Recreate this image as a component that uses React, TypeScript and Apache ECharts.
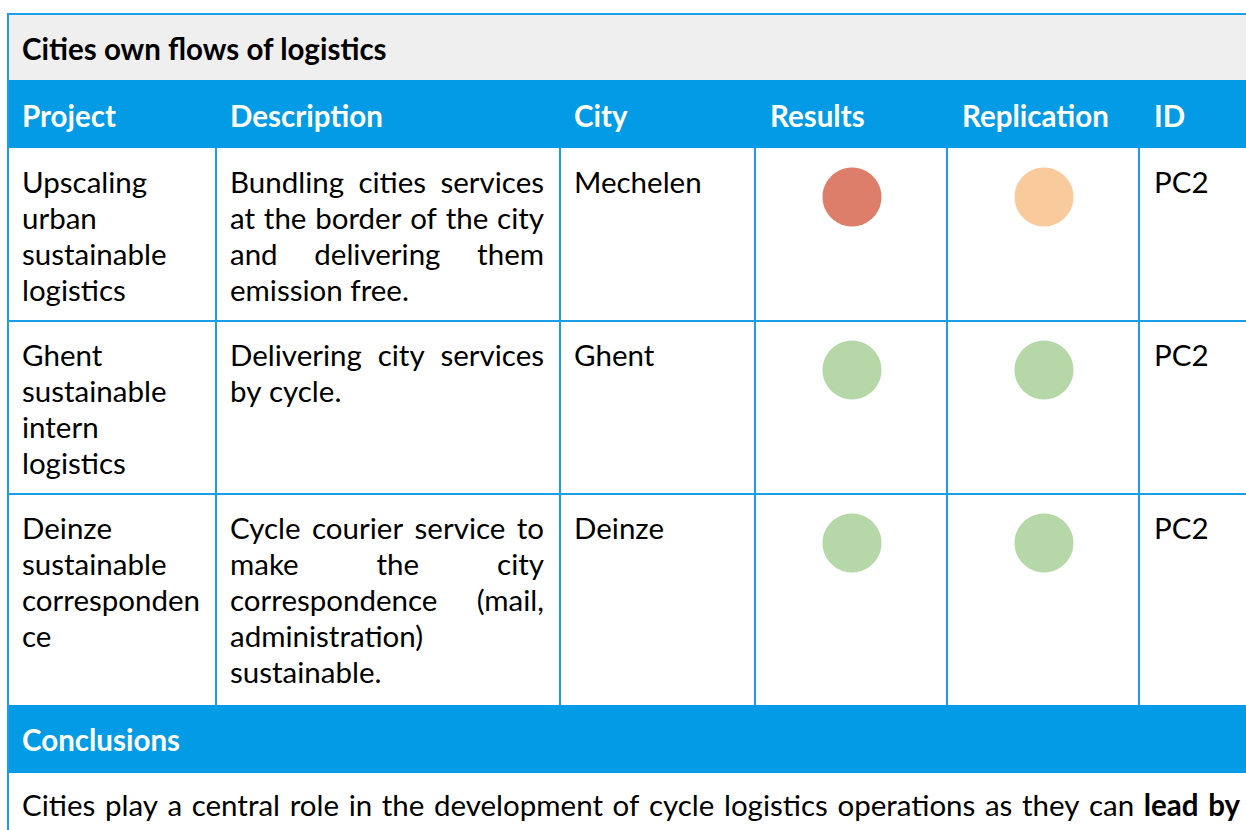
import React, { useEffect, useRef } from "react";
import * as echarts from "echarts";

const title = "Cities own flows of logistics";
const headers = ["Project", "Description", "City", "Results", "Replication", "ID"];
const projects = [
  ["Upscaling", "urban", "sustainable", "logistics"],
  ["Ghent", "sustainable", "intern", "logistics"],
  ["Deinze", "sustainable", "corresponden", "ce"],
];
const descriptions = [
  ["Bundling cities services", "at the border of the city", "and delivering them", "emission free."],
  ["Delivering city services", "by cycle."],
  ["Cycle courier service to", "make the city", "correspondence (mail,", "administration)", "sustainable."],
];
const cities = ["Mechelen", "Ghent", "Deinze"];
const results = ["red", "green", "green"];
const replication = ["amber", "green", "green"];
const ids = ["PC2", "PC2", "PC2"];
const conclusionsTitle = "Conclusions";
const conclusionWords = [
  "Cities", "play", "a", "central", "role", "in", "the", "development", "of", "cycle",
  "logistics", "operations", "as", "they", "can", "**lead", "**by",
];

const statusColors: Record<string, string> = {
  red: "#dd7e6b",
  amber: "#f9cb9c",
  green: "#b6d7a8",
};

const FONT = "Lato";
const SIZE = 29.5;
const BLUE = "#039be5";
const LINE = "#1a9fe6";
const INK = "#000000";

let ctx: CanvasRenderingContext2D | null = null;
function measure(t: string, bold: boolean) {
  if (!ctx) ctx = document.createElement("canvas").getContext("2d");
  ctx!.font = `${bold ? "bold" : "normal"} ${SIZE}px ${FONT}`;
  return ctx!.measureText(t).width;
}

function txt(t: string, x: number, y: number, opts: any = {}) {
  return {
    type: "text",
    x,
    y,
    style: {
      text: t,
      fontFamily: FONT,
      fontSize: SIZE,
      fontWeight: opts.bold ? "bold" : "normal",
      fill: opts.fill || INK,
      align: opts.align || "left",
      verticalAlign: "middle",
    },
  };
}

function justifiedLine(words: string[], x0: number, x1: number, y: number, justify: boolean) {
  const items = words.map((w) => {
    const bold = w.startsWith("**");
    const t = bold ? w.slice(2) : w;
    return { t, bold, w: measure(t, bold) };
  });
  const out: any[] = [];
  if (!justify || items.length < 2) {
    const space = measure(" ", false);
    let x = x0;
    items.forEach((it) => {
      out.push(txt(it.t, x, y, { bold: it.bold }));
      x += it.w + space;
    });
    return out;
  }
  const total = items.reduce((s, it) => s + it.w, 0);
  const gap = (x1 - x0 - total) / (items.length - 1);
  let x = x0;
  items.forEach((it, i) => {
    if (i === items.length - 1) out.push(txt(it.t, x1, y, { bold: it.bold, align: "right" }));
    else out.push(txt(it.t, x, y, { bold: it.bold }));
    x += it.w + gap;
  });
  return out;
}

export default function App() {
  const ref = useRef<HTMLDivElement>(null);
  useEffect(() => {
    document.body.style.margin = "0";
    const chart = echarts.init(ref.current!, null, { renderer: "svg" });
    const W = 1246;
    const colX = [8, 216, 560, 755, 947, 1139, W + 10];
    const rowY = [148, 321, 494, 705];
    const pad = 14;
    const LH = 36;
    const els: any[] = [];

    // title band
    els.push({ type: "rect", shape: { x: 9, y: 15, width: W, height: 65 }, style: { fill: "#efefef" } });
    els.push(txt(title, 22, 48, { bold: true }));
    // header band
    els.push({ type: "rect", shape: { x: 9, y: 80, width: W, height: 68 }, style: { fill: BLUE } });
    headers.forEach((h, i) => els.push(txt(h, colX[i] + pad + (i >= 3 ? 1 : 0), 115, { bold: true, fill: "#ffffff" })));

    // body rows
    projects.forEach((p, r) => {
      const top = rowY[r];
      const y0 = top + 33;
      p.forEach((line, k) => els.push(txt(line, colX[0] + pad, y0 + k * LH)));
      const desc = descriptions[r];
      desc.forEach((line, k) => {
        els.push(...justifiedLine(line.split(" "), colX[1] + pad, colX[2] - 16, y0 + k * LH, k < desc.length - 1));
      });
      els.push(txt(cities[r], colX[2] + pad, y0));
      const cy = top + 49;
      els.push({
        type: "circle",
        shape: { cx: (colX[3] + colX[4]) / 2 + 1, cy, r: 29.5 },
        style: { fill: statusColors[results[r]] },
      });
      els.push({
        type: "circle",
        shape: { cx: (colX[4] + colX[5]) / 2 + 1, cy, r: 29.5 },
        style: { fill: statusColors[replication[r]] },
      });
      els.push(txt(ids[r], colX[5] + pad + 1, y0));
    });

    // conclusions band
    els.push({ type: "rect", shape: { x: 9, y: 705, width: W, height: 68 }, style: { fill: BLUE } });
    els.push(txt(conclusionsTitle, 22, 739, { bold: true, fill: "#ffffff" }));
    els.push(...justifiedLine(conclusionWords, 22, 1240, 804, true));

    // grid lines
    const ls = { stroke: LINE, lineWidth: 2 };
    els.push({ type: "line", shape: { x1: 8, y1: 14, x2: W, y2: 14 }, style: ls });
    els.push({ type: "line", shape: { x1: 8, y1: 13, x2: 8, y2: 830 }, style: ls });
    [rowY[1], rowY[2]].forEach((y) =>
      els.push({ type: "line", shape: { x1: 8, y1: y, x2: W, y2: y }, style: ls })
    );
    colX.slice(1, 6).forEach((x) =>
      els.push({ type: "line", shape: { x1: x, y1: rowY[0], x2: x, y2: rowY[3] }, style: ls })
    );

    chart.setOption({ animation: false, graphic: { elements: els } });
    return () => chart.dispose();
  }, []);
  return <div ref={ref} style={{ width: 1246, height: 830 }} />;
}
